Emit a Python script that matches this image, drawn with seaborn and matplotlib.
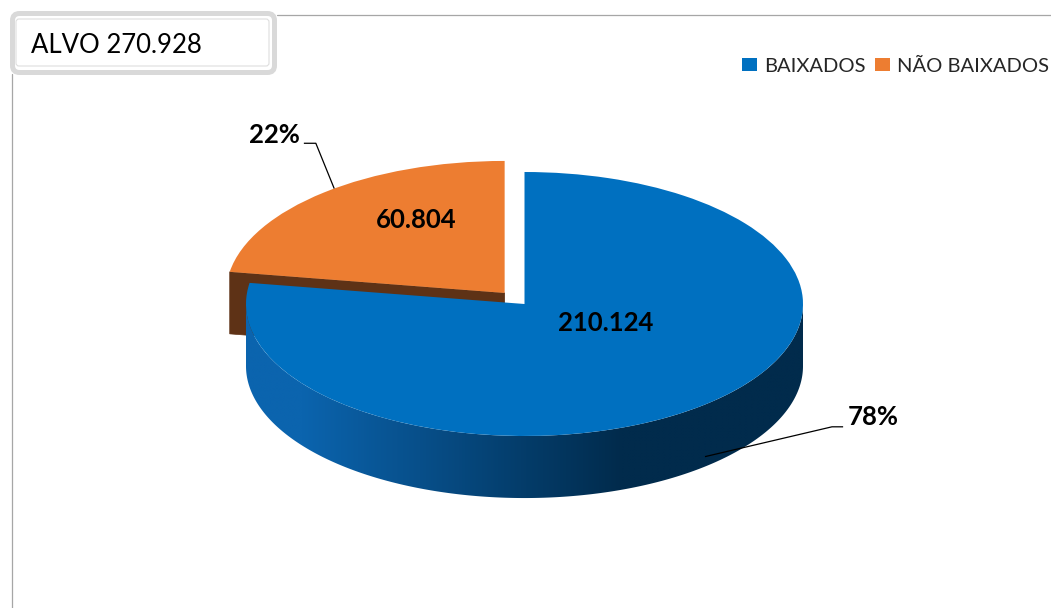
import numpy as np
import matplotlib
matplotlib.use("Agg")
import matplotlib.pyplot as plt
import seaborn as sns
from matplotlib.patches import FancyBboxPatch, Polygon
from matplotlib.lines import Line2D
from matplotlib.transforms import IdentityTransform
import matplotlib.colors as mcolors

# ---------------- data ----------------
categories = ["BAIXADOS", "NÃO BAIXADOS"]
values = [210124, 60804]
title_prefix = "ALVO"

# ---------------- style ----------------
sns.set_theme(style="white")
plt.rcParams['font.family'] = ['Lato', 'DejaVu Sans']

top_colors = ["#0070C0", "#ED7D31"]
side_left, side_right = "#0b64ae", "#012b4c"
cut_color = "#5e3216"

W, H = 1051, 608
fig = plt.figure(figsize=(W / 100, H / 100), dpi=100)
ax = fig.add_axes([0, 0, 1, 1])
ax.axis("off")

total = sum(values)
fmt = lambda v: f"{v:,}".replace(",", ".")

explode = [0.0, 0.11]
depth = 0.47

wedges, _ = ax.pie(values, colors=top_colors, startangle=90, counterclock=False,
                   explode=explode, radius=1.0, center=(0, 0),
                   wedgeprops=dict(linewidth=0))

# angles of each wedge (matplotlib convention, degrees), drawn clockwise from 90
angles = []
cur = 90.0
for v in values:
    sweep = 360.0 * v / total
    angles.append((cur - sweep, cur))
    cur -= sweep

offs = []
for (t1, t2), e in zip(angles, explode):
    m = np.deg2rad((t1 + t2) / 2)
    offs.append((e * np.cos(m), e * np.sin(m)))

# ---- orange wedge: visible radial cut face (the edge at its end angle)
t1o, t2o = angles[1]
ox, oy = offs[1]
r2 = np.deg2rad(t2o)
cut = Polygon([(ox, oy), (ox + np.cos(r2), oy + np.sin(r2)),
               (ox + np.cos(r2), oy + np.sin(r2) - depth), (ox, oy - depth)],
              closed=True, facecolor=cut_color, edgecolor=cut_color, lw=0.5, zorder=1)
ax.add_patch(cut)
wedges[1].set_zorder(2)

# ---- blue wedge: outer side wall (front half) with horizontal shading gradient
ts = np.linspace(np.pi, 2 * np.pi, 400)
top_arc = np.column_stack([np.cos(ts), np.sin(ts)])
bot_arc = np.column_stack([np.cos(ts[::-1]), np.sin(ts[::-1]) - depth])
side = Polygon(np.vstack([top_arc, bot_arc]), closed=True, facecolor="none",
               edgecolor="none", zorder=3)
ax.add_patch(side)
xs = np.linspace(-1, 1, 512)
tt = np.clip((xs + 0.8) / 1.15, 0, 1)
c_l = np.array(mcolors.to_rgb(side_left))
c_r = np.array(mcolors.to_rgb(side_right))
grad = (c_l[None, :] * (1 - tt[:, None]) + c_r[None, :] * tt[:, None])[None, :, :]
im = ax.imshow(grad, extent=(-1, 1, -1 - depth - 0.02, 0.02), aspect="auto",
               interpolation="bilinear", zorder=3, origin="lower")
im.set_clip_path(side)
wedges[0].set_zorder(4)

ax.set_aspect("auto")
cx, cy, a_px, b_px = 524.5, 304.0, 278.5, 132.0
ax.set_xlim(-cx / a_px, (W - cx) / a_px)
ax.set_ylim((cy - H) / b_px, cy / b_px)

# ---------------- labels ----------------
value_label_pos = [(0.293, -0.144), (-0.39, 0.636)]
for v, (lx, ly) in zip(values, value_label_pos):
    ax.text(lx, ly, fmt(v), ha="center", va="center", fontsize=18.5,
            fontweight="bold", color="black", zorder=6)

# percentage labels with leader lines
pct_anchor_frac = [0.5, 0.467]
pct_anchor_drop = [0.84, 0.0]
pct_text_off = [(0.604, 0.301), (-0.213, 0.404)]
pct_elbow = [[(0.496, 0.226), (0.456, 0.226)], [(-0.109, 0.343), (-0.066, 0.343)]]
for i, ((t1, t2), (dx, dy)) in enumerate(zip(angles, offs)):
    m = np.deg2rad(t1 + pct_anchor_frac[i] * (t2 - t1))
    axp = np.cos(m) + dx
    ayp = np.sin(m) + dy - pct_anchor_drop[i] * depth
    pct = round(values[i] / total * 100)
    tx, ty = axp + pct_text_off[i][0], ayp + pct_text_off[i][1]
    ax.text(tx, ty, f"{pct}%", ha="center", va="center", fontsize=18.5,
            fontweight="bold", color="black", zorder=6)
    e1, e2 = pct_elbow[i]
    ax.plot([e1[0] + axp, e2[0] + axp, axp], [e1[1] + ayp, e2[1] + ayp, ayp],
            color="black", lw=0.9, zorder=6, solid_capstyle="butt")

# ---------------- chart frame & title box (pixel coordinates) ----------------
idt = IdentityTransform()
frame_col = "#a6a6a6"
fig.add_artist(Line2D([277, W], [H - 15, H - 15], transform=idt, color=frame_col, lw=0.9))
fig.add_artist(Line2D([11.5, 11.5], [0, H - 74], transform=idt, color=frame_col, lw=0.9))

box = FancyBboxPatch((12.5, H - 72.5), 262, 59,
                     boxstyle="round,pad=0,rounding_size=7",
                     transform=idt, facecolor="white", edgecolor="#d9d9d9",
                     lw=3.6, zorder=10)
fig.add_artist(box)
inner = FancyBboxPatch((16, H - 66), 253, 47,
                       boxstyle="round,pad=0,rounding_size=3",
                       transform=idt, facecolor="none", edgecolor="#dedede",
                       lw=0.8, zorder=11)
fig.add_artist(inner)
fig.text(31 / W, 1 - 45.5 / H, f"{title_prefix} {fmt(total)}", ha="left", va="center",
         fontsize=18.5, color="black", zorder=12)

# ---------------- legend ----------------
leg = fig.legend(wedges, categories, loc="center right",
                 bbox_to_anchor=(1049 / W, 1 - 66 / H), ncol=2, frameon=False,
                 fontsize=14.5, handlelength=0.72, handleheight=0.62,
                 handletextpad=0.35, columnspacing=0.5, borderaxespad=0, borderpad=0)

fig.savefig("out.png", dpi=100)
